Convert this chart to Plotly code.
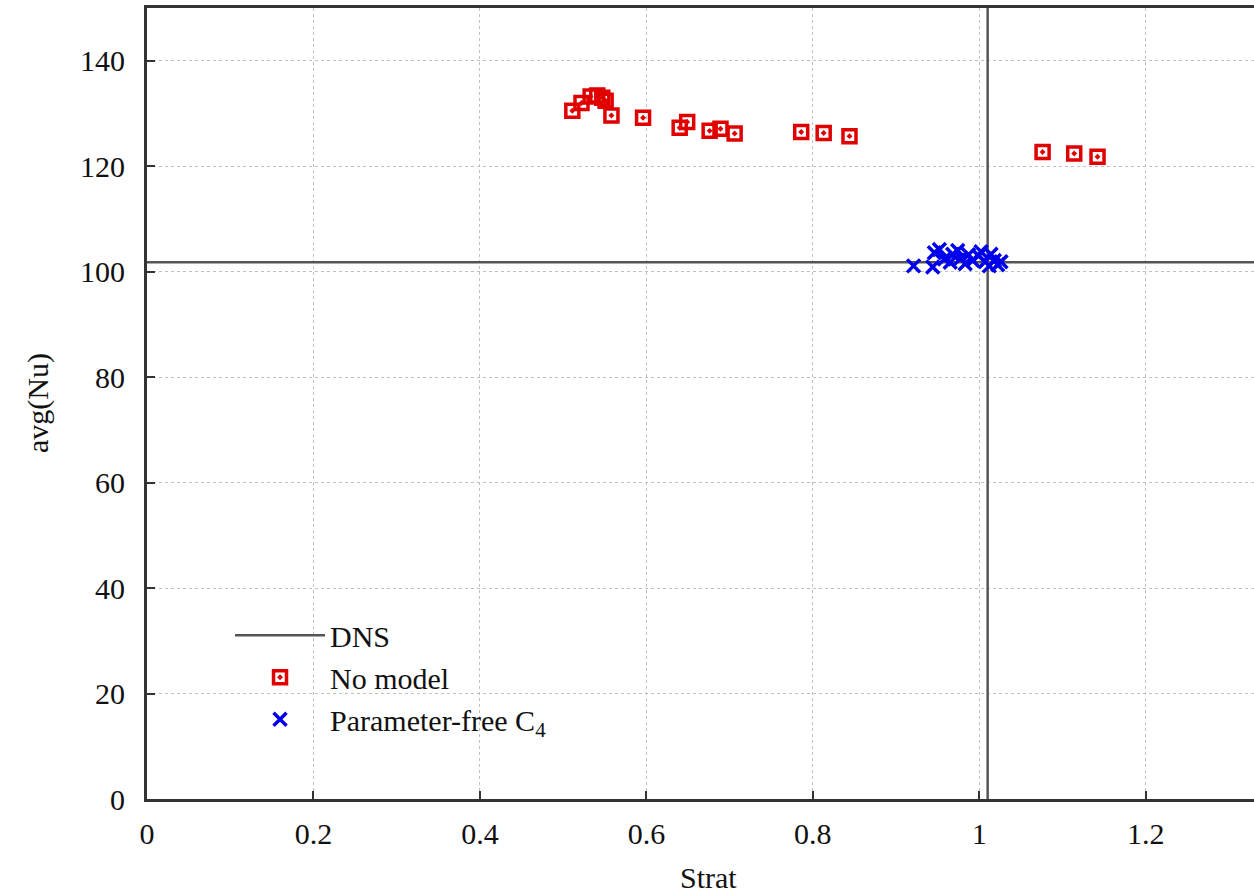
import plotly.graph_objects as go

# Data
nomodel_x = [0.511, 0.522, 0.533, 0.541, 0.547, 0.551, 0.558, 0.596, 0.640, 0.649,
             0.676, 0.689, 0.706, 0.786, 0.813, 0.844, 1.076, 1.114, 1.142]
nomodel_y = [130.5, 132.0, 133.2, 133.4, 133.0, 132.4, 129.6, 129.2, 127.3, 128.4,
             126.7, 127.1, 126.2, 126.5, 126.3, 125.7, 122.7, 122.4, 121.8]

c4_x = [0.921, 0.944, 0.946, 0.952, 0.958, 0.965, 0.968, 0.974, 0.978, 0.983,
        0.987, 0.992, 0.999, 1.002, 1.007, 1.012, 1.014, 1.018, 1.022, 1.026]
c4_y = [101.1, 100.9, 103.6, 104.2, 102.4, 101.8, 103.3, 104.0, 102.6, 101.5,
        103.2, 102.1, 103.0, 103.8, 101.9, 101.1, 103.3, 102.1, 101.3, 101.9]

dns_nu = 101.8
dns_strat = 1.01

x_range = [0, 1.33]
y_range = [0, 150]
x_ticks = [0, 0.2, 0.4, 0.6, 0.8, 1, 1.2]
x_ticktext = ["0", "0.2", "0.4", "0.6", "0.8", "1", "1.2"]
y_ticks = [0, 20, 40, 60, 80, 100, 120, 140]

FONT = "Liberation Serif, Times New Roman, serif"
FS = 30

fig = go.Figure()
fig.add_trace(go.Scatter(
    x=[x_range[0], x_range[1], None, dns_strat, dns_strat],
    y=[dns_nu, dns_nu, None, y_range[0], y_range[1]],
    mode="lines", name="DNS",
    line=dict(color="#555555", width=2.5)))
fig.add_trace(go.Scatter(
    x=nomodel_x, y=nomodel_y, mode="markers", name="No model",
    marker=dict(symbol="square-open-dot", size=13, color="#e00000",
                line=dict(width=3.5, color="#e00000"))))
fig.add_trace(go.Scatter(
    x=c4_x, y=c4_y, mode="markers", name="Parameter-free C<sub>4</sub>",
    marker=dict(symbol="x-thin-open", size=13, color="#0000ee",
                line=dict(width=3.5, color="#0000ee"))))

axis_common = dict(
    showgrid=True, gridcolor="#c0c0c0", griddash="dot", gridwidth=1,
    zeroline=False, showline=True, linecolor="#333333", linewidth=3,
    ticks="inside", ticklen=8, tickwidth=2, tickcolor="#333333",
    tickfont=dict(family=FONT, size=FS, color="#111111"),
)

fig.update_xaxes(range=x_range, tickvals=x_ticks, ticktext=x_ticktext,
                 mirror=True, ticklabelstandoff=6, **axis_common)
fig.update_yaxes(range=y_range, tickvals=y_ticks, mirror=False,
                 ticklabelstandoff=13, **axis_common)

pw, ph = 1254 - 147, 896 - 8 - 97
fig.add_annotation(text="avg(Nu)", x=(38 - 147) / pw, y=(799 - 403) / ph,
                   xref="paper", yref="paper", showarrow=False, textangle=-90,
                   xanchor="center", yanchor="middle",
                   font=dict(family=FONT, size=FS, color="#111111"))
fig.add_annotation(text="Strat", x=(708 - 147) / pw, y=(799 - 877) / ph,
                   xref="paper", yref="paper", showarrow=False,
                   xanchor="center", yanchor="middle",
                   font=dict(family=FONT, size=FS, color="#111111"))

fig.update_layout(
    width=1254, height=896,
    margin=dict(l=147, r=0, t=8, b=97),
    paper_bgcolor="white", plot_bgcolor="white",
    showlegend=True,
    legend=dict(x=0.075, y=0.240, xanchor="left", yanchor="top",
                bgcolor="rgba(0,0,0,0)", itemwidth=90,
                font=dict(family=FONT, size=FS, color="#111111"),
                tracegroupgap=0),
)

fig.write_html("out.html")
